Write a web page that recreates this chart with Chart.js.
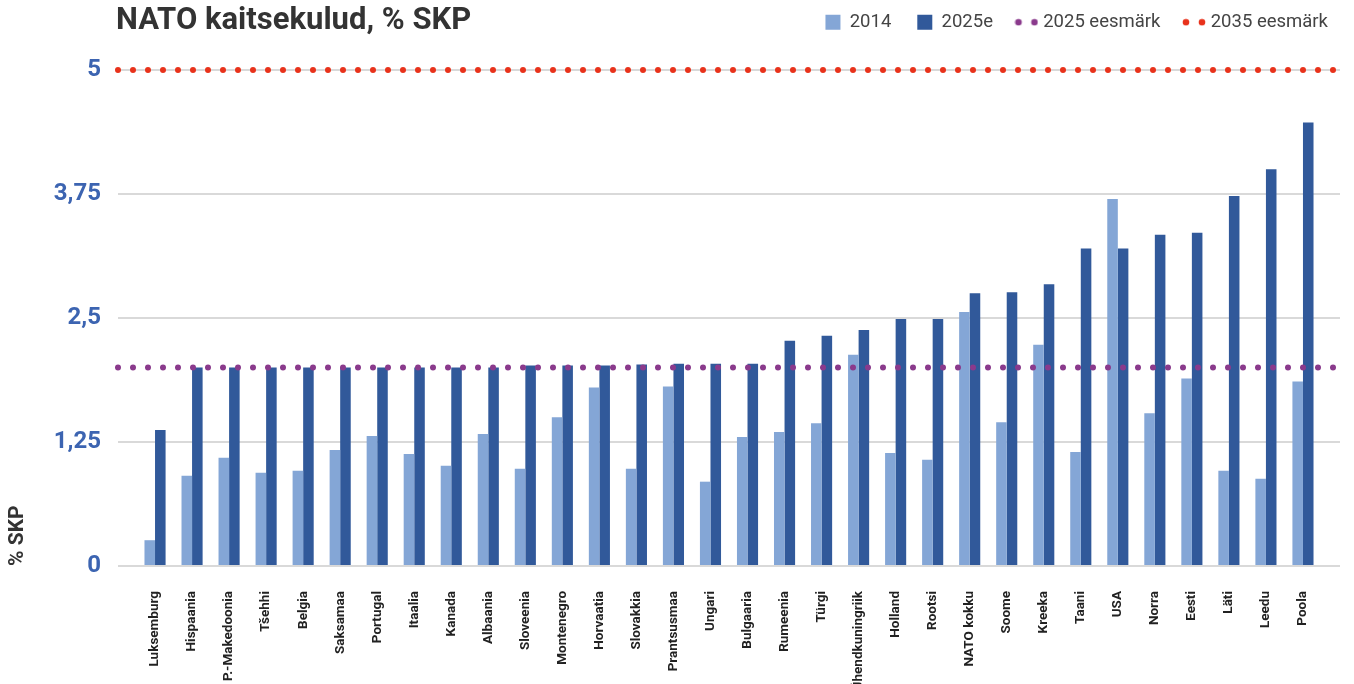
<!DOCTYPE html>
<html>
<head>
<meta charset="utf-8">
<script src="https://cdn.jsdelivr.net/npm/chart.js@4/dist/chart.umd.min.js"></script>
<style>
  body { margin: 0; background: #fff; }
  #wrap { position: relative; width: 1354px; height: 684px; }
  #title {
    position: absolute; left: 116px; top: 4px;
    font: bold 31px Roboto, sans-serif; line-height: 30px; color: #333;
  }
</style>
</head>
<body>
<div id="wrap">
  <canvas id="natoChart"></canvas>
  <div id="title">NATO kaitsekulud, % SKP</div>
</div>
<script>
const countries = ['Luksemburg', 'Hispaania', 'P.-Makedoonia', 'Tšehhi', 'Belgia', 'Saksamaa',
  'Portugal', 'Itaalia', 'Kanada', 'Albaania', 'Sloveenia', 'Montenegro', 'Horvaatia',
  'Slovakkia', 'Prantsusmaa', 'Ungari', 'Bulgaaria', 'Rumeenia', 'Türgi', 'Ühendkuningriik',
  'Holland', 'Rootsi', 'NATO kokku', 'Soome', 'Kreeka', 'Taani', 'USA', 'Norra', 'Eesti',
  'Läti', 'Leedu', 'Poola'];

const spend2014 = [0.26, 0.91, 1.09, 0.94, 0.96, 1.17, 1.31, 1.13, 1.01, 1.33, 0.98, 1.50,
  1.80, 0.98, 1.81, 0.85, 1.30, 1.35, 1.44, 2.13, 1.14, 1.07, 2.56, 1.45, 2.23, 1.15, 3.70,
  1.54, 1.89, 0.96, 0.88, 1.86];

const spend2025 = [1.37, 2.00, 2.00, 2.00, 2.00, 2.00, 2.00, 2.00, 2.00, 2.00, 2.02, 2.02,
  2.02, 2.03, 2.04, 2.04, 2.04, 2.27, 2.32, 2.38, 2.49, 2.49, 2.75, 2.76, 2.84, 3.20, 3.20,
  3.34, 3.36, 3.73, 4.00, 4.47];

const target2025 = 2;
const target2035 = 5;
const yTicks = [0, 1.25, 2.5, 3.75, 5];

// empty slot at each end so the target lines run past the bars
const labels = ['', ...countries, ''];
const pad = arr => [null, ...arr, null];
const flat = v => new Array(labels.length).fill(v);

function dotsIcon(color) {
  const c = document.createElement('canvas');
  c.width = 24; c.height = 8;
  const g = c.getContext('2d');
  g.fillStyle = color;
  [4, 20].forEach(x => { g.beginPath(); g.arc(x, 4, 3.3, 0, Math.PI * 2); g.fill(); });
  return c;
}

const icons = ['rect', 'rect', dotsIcon('#8a3a8c'), dotsIcon('#e8321b')];

Chart.defaults.font.family = 'Roboto, sans-serif';

const legendHeight = {
  id: 'legendHeight',
  beforeInit(chart) {
    const fit = chart.legend.fit;
    chart.legend.fit = function () { fit.call(this); this.height = 83; };
  }
};

new Chart(document.getElementById('natoChart'), {
  type: 'bar',
  data: {
    labels,
    datasets: [
      { label: '2014', data: pad(spend2014), backgroundColor: '#84a6d6', order: 1,
        categoryPercentage: 0.57, barPercentage: 1 },
      { label: '2025e', data: pad(spend2025), backgroundColor: '#31599a', order: 1,
        categoryPercentage: 0.57, barPercentage: 1 },
      { type: 'line', label: '2025 eesmärk', data: flat(target2025), borderColor: '#8a3a8c',
        borderWidth: 6, borderDash: [0, 15], borderCapStyle: 'round', pointRadius: 0,
        fill: false, order: 0, clip: 10 },
      { type: 'line', label: '2035 eesmärk', data: flat(target2035), borderColor: '#e8321b',
        borderWidth: 6, borderDash: [0, 15], borderCapStyle: 'round', pointRadius: 0,
        fill: false, order: 0, clip: 10 }
    ]
  },
  options: {
    responsive: true,
    maintainAspectRatio: false,
    animation: false,
    layout: { padding: { top: -13, right: 0, left: 0, bottom: 0 } },
    plugins: {
      title: { display: false },
      tooltip: { enabled: false },
      legend: {
        position: 'top',
        align: 'end',
        labels: {
          usePointStyle: true,
          boxWidth: 15,
          boxHeight: 15,
          padding: 26,
          color: '#444',
          font: { size: 18.5 },
          generateLabels(chart) {
            const items = Chart.defaults.plugins.legend.labels.generateLabels(chart);
            items.forEach(it => { it.pointStyle = icons[it.datasetIndex]; });
            return items.sort((a, b) => a.datasetIndex - b.datasetIndex);
          }
        }
      }
    },
    scales: {
      x: {
        offset: false,
        grid: { display: false },
        border: { display: false },
        ticks: {
          autoSkip: false,
          minRotation: 90,
          maxRotation: 90,
          padding: 17,
          color: '#222',
          font: { size: 13.5, weight: 'bold' }
        },
        afterFit(scale) {
          scale.height = 118;
          scale.paddingLeft = 0;
          scale.paddingRight = 14;
        }
      },
      y: {
        min: 0,
        max: 5,
        afterBuildTicks(scale) { scale.ticks = yTicks.map(v => ({ value: v })); },
        grid: { color: '#d9d9d9', lineWidth: 2, drawTicks: false },
        border: { display: false },
        ticks: {
          padding: 17,
          color: '#3c64b1',
          font: { size: 24, weight: 'bold' },
          callback: v => String(v).replace('.', ',')
        },
        title: {
          display: true,
          text: '% SKP',
          align: 'start',
          color: '#333',
          font: { size: 21, weight: 'bold' },
          padding: { top: 5, bottom: 0 }
        },
        afterFit(scale) { scale.width = 118; }
      }
    }
  },
  plugins: [legendHeight]
});
</script>
</body>
</html>
